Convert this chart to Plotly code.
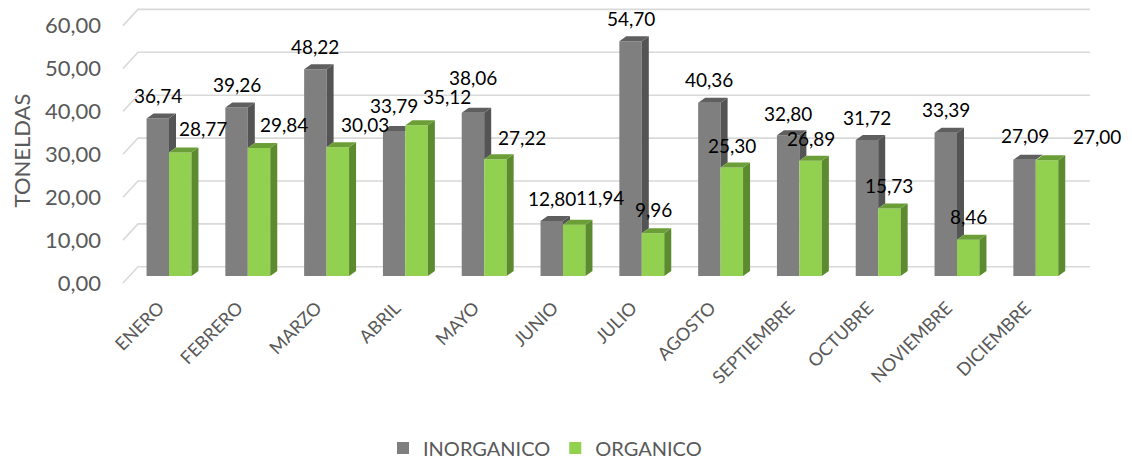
import plotly.graph_objects as go

# ---------------- data ----------------
months = ["ENERO", "FEBRERO", "MARZO", "ABRIL", "MAYO", "JUNIO", "JULIO",
          "AGOSTO", "SEPTIEMBRE", "OCTUBRE", "NOVIEMBRE", "DICIEMBRE"]
inorganico = [36.74, 39.26, 48.22, 33.79, 38.06, 12.80, 54.70, 40.36, 32.80, 31.72, 33.39, 27.09]
organico = [28.77, 29.84, 30.03, 35.12, 27.22, 11.94, 9.96, 25.30, 26.89, 15.73, 8.46, 27.00]
y_ticks = [0, 10, 20, 30, 40, 50, 60]

# label placement (pixels, style only)
inorg_lbl_dy = [23, 23, 23, 26, 35, 23, 23, 23, 22, 22, 23, 24]
org_lbl_dx = [23, 25, 27, 30, 27, 26, 0, 0, 0, 0, 0, 50]
org_lbl_dy = [24, 23, 23, 29, 22, 27, 24, 22, 22, 23, 23, 24]

# ---------------- geometry / style ----------------
W, H = 1132, 461
OFF = 8          # page body margin: figure starts 8px in from the window corner
PXX = 78.8       # px per category
PXY = 4.29       # px per tonne
X0PX, Y0PX = 169, 276   # window pixel of category 0 centre / value 0 (bar front plane)
L, R_EDGE, T, B_EDGE = 110, 1112, 8, 293   # plot area in window pixels

def xd(px):
    return (px - X0PX) / PXX

def yd(py):
    return (Y0PX - py) / PXY

GREY, GREY_SIDE, GREY_TOP = "#7F7F7F", "#545454", "#5F5F5F"
GREEN, GREEN_SIDE, GREEN_TOP = "#92D050", "#5C8A2E", "#6B9E37"
FONT = "Lato"
TXT = "#595959"

BARGAP = 0.43
BW = (1 - BARGAP) / 2
DX = 7 / PXX
DY = 5 / PXY

idx = list(range(len(months)))

fig = go.Figure()

fig.add_trace(go.Bar(x=idx, y=inorganico, name="INORGANICO",
                     marker=dict(color=GREY, line=dict(width=0))))
fig.add_trace(go.Bar(x=idx, y=organico, name="ORGANICO",
                     marker=dict(color=GREEN, line=dict(width=0))))

def poly(xs, ys, color):
    fig.add_trace(go.Scatter(x=xs + [xs[0]], y=ys + [ys[0]], fill="toself",
                             fillcolor=color, mode="lines",
                             line=dict(width=0, color=color),
                             hoverinfo="skip", showlegend=False))

# grey 3D faces (clipped by the green bar in front)
for i, (vg, vo) in enumerate(zip(inorganico, organico)):
    x0 = i - BW
    x1 = i
    if vg > vo:
        poly([x1, x1 + DX, x1 + DX, x1], [vo, vo + DY, vg + DY, vg], GREY_SIDE)
        poly([x0, x0 + DX, x1 + DX, x1], [vg, vg + DY, vg + DY, vg], GREY_TOP)
    else:
        poly([x0, x0 + DX, x1, x1], [vg, vg + DY, vg + DY, vg], GREY_TOP)

# green 3D faces
for i, vo in enumerate(organico):
    x0 = i
    x1 = i + BW
    poly([x1, x1 + DX, x1 + DX, x1], [0, DY, vo + DY, vo], GREEN_SIDE)
    poly([x0, x0 + DX, x1 + DX, x1], [vo, vo + DY, vo + DY, vo], GREEN_TOP)

# grid lines on the back wall with the perspective stub at left
shapes = []
x_front = xd(123)
x_back = xd(138)
x_right = xd(1090)
back_off = 2.15
front_off = -1.63
for v in y_ticks:
    path = (f"M {x_front},{v + front_off} L {x_back},{v + back_off} "
            f"L {x_right},{v + back_off}")
    shapes.append(dict(type="path", path=path, xref="x", yref="y",
                       line=dict(color="#D9D9D9", width=1.6), layer="below"))

def fmt(v):
    return f"{v:.2f}".replace(".", ",")

annotations = []
for i, v in enumerate(inorganico):
    annotations.append(dict(x=i - BW / 2, y=v, text=fmt(v), showarrow=False,
                            xanchor="center", yanchor="middle",
                            yshift=inorg_lbl_dy[i],
                            font=dict(family=FONT, size=19, color="#000000")))
for i, v in enumerate(organico):
    annotations.append(dict(x=i + BW / 2, y=v, text=fmt(v), showarrow=False,
                            xanchor="center", yanchor="middle",
                            xshift=org_lbl_dx[i], yshift=org_lbl_dy[i],
                            font=dict(family=FONT, size=19, color="#000000")))

plot_h = B_EDGE - T
fig.update_layout(
    width=W - OFF, height=H - OFF,
    margin=dict(l=L - OFF, r=W - R_EDGE, t=T - OFF,
                b=H - B_EDGE, autoexpand=False),
    paper_bgcolor="white", plot_bgcolor="white",
    barmode="group", bargap=BARGAP, bargroupgap=0,
    shapes=shapes, annotations=annotations,
    showlegend=True,
    legend=dict(orientation="h", x=(545 - L) / (R_EDGE - L), xanchor="center",
                y=(B_EDGE - 448) / plot_h, yanchor="middle",
                font=dict(family=FONT, size=20, color=TXT),
                bgcolor="rgba(0,0,0,0)"),
    font=dict(family=FONT, color=TXT),
)
fig.update_xaxes(range=[xd(L), xd(R_EDGE)], showgrid=False, zeroline=False,
                 showline=False, ticks="", tickmode="array",
                 tickvals=[i - 10 / PXX for i in idx], ticktext=months,
                 tickangle=-45, tickfont=dict(family=FONT, size=18, color=TXT))
fig.update_yaxes(range=[yd(B_EDGE), yd(T)], showgrid=False, zeroline=False,
                 showline=False, ticks="", tickmode="array",
                 tickvals=[v + front_off for v in y_ticks],
                 ticktext=[fmt(v) for v in y_ticks],
                 ticklabelstandoff=8,
                 tickfont=dict(family=FONT, size=22, color=TXT),
                 title=dict(text="TONELDAS", standoff=10,
                            font=dict(family=FONT, size=22, color=TXT)))

fig.write_html("out.html")
